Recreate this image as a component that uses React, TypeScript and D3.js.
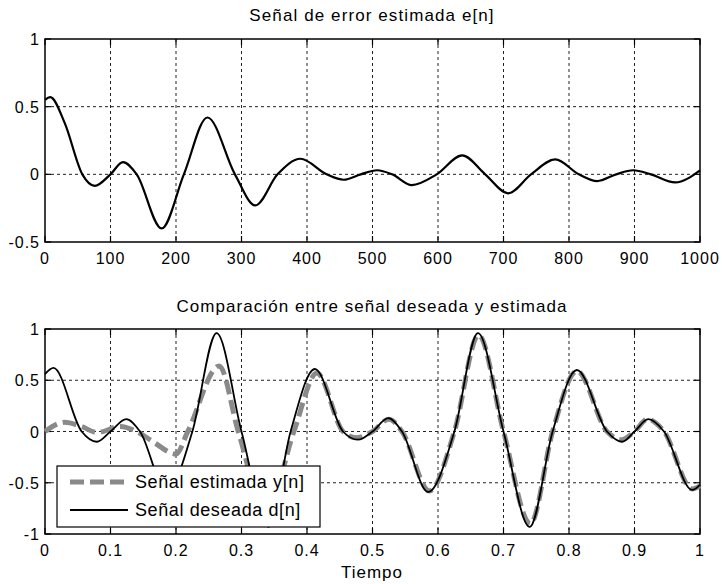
import React from "react";
import * as d3 from "d3";

// ---- data ----
// top plot: error signal e[n], samples 0..1000
const errN = [0, 8, 30, 57, 76, 100, 119, 140, 178, 212, 248, 290, 321, 355, 390, 430, 456, 482, 507, 530, 560, 598, 637, 672, 707, 742, 779, 815, 843, 872, 898, 925, 962, 1000];
const errV = [0.55, 0.57, 0.38, 0, -0.085, 0, 0.09, 0, -0.4, 0, 0.42, 0, -0.23, 0, 0.115, 0, -0.04, 0, 0.03, 0, -0.08, 0, 0.14, 0, -0.14, 0, 0.11, 0, -0.05, 0, 0.03, 0, -0.06, 0.03];

// bottom plot: desired d[n]
const desT = [0, 0.013, 0.056, 0.079, 0.1, 0.124, 0.145, 0.186, 0.225, 0.262, 0.3, 0.341, 0.375, 0.412, 0.455, 0.478, 0.5, 0.524, 0.545, 0.585, 0.625, 0.661, 0.7, 0.74, 0.775, 0.812, 0.858, 0.881, 0.9, 0.921, 0.945, 0.988, 1.0];
const desV = [0.56, 0.62, 0, -0.1, 0, 0.12, 0, -0.59, 0, 0.96, 0, -0.93, 0, 0.61, 0, -0.08, 0, 0.13, 0, -0.59, 0, 0.96, 0, -0.93, 0, 0.6, 0, -0.1, 0, 0.12, 0, -0.57, -0.52];

// bottom plot: estimated y[n]
const estT = [0, 0.03, 0.055, 0.08, 0.115, 0.14, 0.165, 0.2, 0.218, 0.266, 0.295, 0.338, 0.38, 0.415, 0.455, 0.475, 0.5, 0.525, 0.545, 0.587, 0.625, 0.662, 0.7, 0.741, 0.775, 0.812, 0.858, 0.88, 0.9, 0.92, 0.945, 0.988, 1.0];
const estV = [0.0, 0.09, 0.05, -0.01, 0.05, 0.0, -0.1, -0.22, 0, 0.64, 0, -0.78, 0, 0.57, 0, -0.06, 0, 0.12, 0, -0.58, 0, 0.94, 0, -0.9, 0, 0.59, 0, -0.08, 0, 0.12, 0, -0.56, -0.53];

const topXTicks = [0, 100, 200, 300, 400, 500, 600, 700, 800, 900, 1000];
const topYTicks = [1, 0.5, 0, -0.5];
const botXTicks = [0, 0.1, 0.2, 0.3, 0.4, 0.5, 0.6, 0.7, 0.8, 0.9, 1];
const botYTicks = [1, 0.5, 0, -0.5, -1];

const titleTop = "Señal de error estimada e[n]";
const titleBot = "Comparación entre señal deseada y estimada";
const xLabel = "Tiempo";
const legendLabels = ["Señal estimada y[n]", "Señal deseada d[n]"];

const FONT = "'Liberation Sans', Arial, Helvetica, sans-serif";
const L = 45, R = 700;

function fmt(v: number) {
  return String(v);
}

function Axes({ x, y, xt, yt, top, bottom }: any) {
  return (
    <g>
      {xt.map((t: number, i: number) => (
        <g key={"gx" + i}>
          {i > 0 && i < xt.length - 1 && (
            <line x1={x(t)} x2={x(t)} y1={top} y2={bottom} stroke="#222" strokeWidth={1} strokeDasharray="3,3" />
          )}
          <line x1={x(t)} x2={x(t)} y1={bottom} y2={bottom - 6} stroke="#000" strokeWidth={1.2} />
          <line x1={x(t)} x2={x(t)} y1={top} y2={top + 6} stroke="#000" strokeWidth={1.2} />
          <text x={x(t)} y={bottom + 22} textAnchor="middle" fontSize={16} letterSpacing={1} fill="#000" fontFamily={FONT}>
            {fmt(t)}
          </text>
        </g>
      ))}
      {yt.map((t: number, i: number) => (
        <g key={"gy" + i}>
          {Math.abs(y(t) - top) > 1 && Math.abs(y(t) - bottom) > 1 && (
            <line x1={L} x2={R} y1={y(t)} y2={y(t)} stroke="#222" strokeWidth={1} strokeDasharray="3,3" />
          )}
          <line x1={L} x2={L + 6} y1={y(t)} y2={y(t)} stroke="#000" strokeWidth={1.2} />
          <line x1={R} x2={R - 6} y1={y(t)} y2={y(t)} stroke="#000" strokeWidth={1.2} />
          <text x={40} y={y(t) + 6} textAnchor="end" fontSize={16} letterSpacing={1} fill="#000" fontFamily={FONT}>
            {fmt(t)}
          </text>
        </g>
      ))}
      <rect x={L} y={top} width={R - L} height={bottom - top} fill="none" stroke="#000" strokeWidth={1.5} />
    </g>
  );
}

export default function App() {
  const topT = 39, topB = 242;
  const botT = 329, botB = 534;

  const x1 = d3.scaleLinear().domain([0, 1000]).range([L, R]);
  const y1 = d3.scaleLinear().domain([-0.5, 1]).range([topB, topT]);
  const x2 = d3.scaleLinear().domain([0, 1]).range([L, R]);
  const y2 = d3.scaleLinear().domain([-1, 1]).range([botB, botT]);

  const errData = errN.map((n, i) => [n, errV[i]] as [number, number]);
  const desData = desT.map((t, i) => [t, desV[i]] as [number, number]);
  const estData = estT.map((t, i) => [t, estV[i]] as [number, number]);

  const lineTop = d3.line<[number, number]>().x((d) => x1(d[0])).y((d) => y1(d[1])).curve(d3.curveMonotoneX);
  const lineBot = d3.line<[number, number]>().x((d) => x2(d[0])).y((d) => y2(d[1])).curve(d3.curveMonotoneX);

  const legX = 57, legY = 466, legW = 263, legH = 61;

  return (
    <svg width={722} height={584} style={{ position: "absolute", left: 0, top: 0, background: "#fff" }}>
      <rect x={0} y={0} width={722} height={584} fill="#fff" />
      <text x={372} y={21} textAnchor="middle" fontSize={17} letterSpacing={1.1} fontFamily={FONT} fill="#000">
        {titleTop}
      </text>
      <Axes x={x1} y={y1} xt={topXTicks} yt={topYTicks} top={topT} bottom={topB} />
      <path d={lineTop(errData) || ""} fill="none" stroke="#000" strokeWidth={2.2} />

      <text x={372} y={312} textAnchor="middle" fontSize={17} letterSpacing={1.05} fontFamily={FONT} fill="#000">
        {titleBot}
      </text>
      <Axes x={x2} y={y2} xt={botXTicks} yt={botYTicks} top={botT} bottom={botB} />
      <path d={lineBot(estData) || ""} fill="none" stroke="#8a8a8a" strokeWidth={5} strokeDasharray="14,6" />
      <path d={lineBot(desData) || ""} fill="none" stroke="#000" strokeWidth={1.8} />
      <text x={372} y={578} textAnchor="middle" fontSize={17} letterSpacing={1} fontFamily={FONT} fill="#000">
        {xLabel}
      </text>

      <rect x={legX} y={legY} width={legW} height={legH} fill="#fff" stroke="#000" strokeWidth={1.2} />
      <line x1={70} x2={128} y1={482} y2={482} stroke="#8a8a8a" strokeWidth={5} strokeDasharray="14,6" />
      <line x1={70} x2={128} y1={510} y2={510} stroke="#000" strokeWidth={1.8} />
      <text x={135} y={488} fontSize={18} letterSpacing={0.6} fontFamily={FONT} fill="#000">
        {legendLabels[0]}
      </text>
      <text x={135} y={516} fontSize={18} letterSpacing={0.6} fontFamily={FONT} fill="#000">
        {legendLabels[1]}
      </text>
    </svg>
  );
}
